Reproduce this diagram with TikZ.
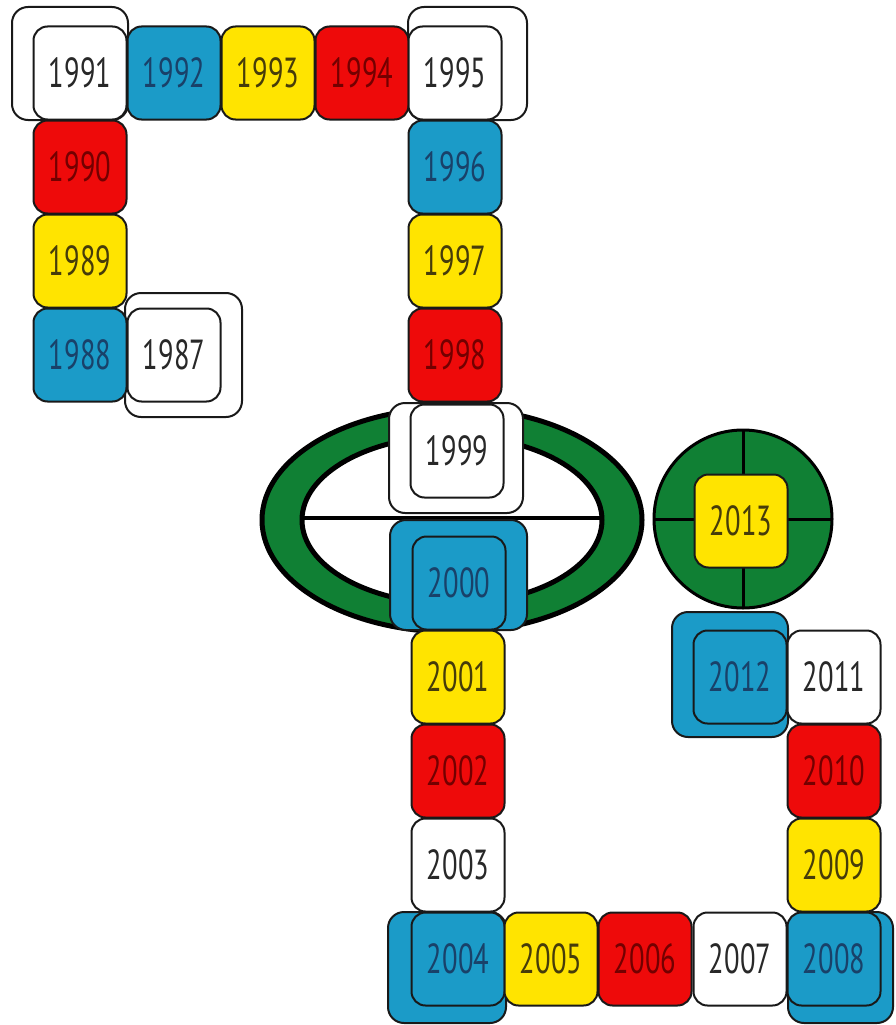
\documentclass[tikz,border=0pt]{standalone}
\usepackage{fontspec}
\setmainfont{PT Sans}[FakeStretch=0.68]
\usepackage{xcolor}

\definecolor{tblue}{RGB}{27,155,200}
\definecolor{tyellow}{RGB}{255,228,0}
\definecolor{tred}{RGB}{238,10,10}
\definecolor{tgreen}{RGB}{16,128,52}
\definecolor{tbluetext}{RGB}{25,65,105}
\definecolor{tyellowtext}{RGB}{70,60,10}
\definecolor{tredtext}{RGB}{115,0,0}
\definecolor{twhitetext}{RGB}{40,40,40}

\tikzset{
    tile/.style={draw=black!90, line width=2pt, rounded corners=14pt,
        minimum width=93pt, minimum height=93pt, inner sep=0pt,
        font=\fontsize{42}{42}\selectfont},
    whitetile/.style={tile, fill=white, text=twhitetext},
    bluetile/.style={tile, fill=tblue, text=tbluetext},
    yellowtile/.style={tile, fill=tyellow, text=tyellowtext},
    redtile/.style={tile, fill=tred, text=tredtext},
    frame/.style={draw=black!90, line width=2pt, rounded corners=16pt}
}

\begin{document}
\begin{tikzpicture}[x=1pt, y=-1pt]
    \useasboundingbox (0,0) rectangle (895,1025);

    % Ring with bar
    \fill[tgreen, draw=black, line width=5pt, even odd rule]
        (452,520) ellipse [x radius=190, y radius=112]
        (452,520) ellipse [x radius=150, y radius=84];
    \draw[line width=4pt] (302,518) -- (602,518);

    % Disc with cross
    \draw[fill=tgreen, line width=3pt] (743,519) circle [radius=89];
    \draw[line width=3pt] (654,519) -- (832,519) (743,430) -- (743,608);

    % Outer frames of the turning tiles
    \foreach \xa/\ya/\xb/\yb/\col in {12/7/128/120/white, 408/7/527/120/white,
        125/293/242/417/white, 389/403/523/513/white, 390/520/527/630/tblue,
        672/612/788/737/tblue, 388/912/506/1023/tblue, 788/912/893/1023/tblue}
        \draw[frame, fill=\col] (\xa,\ya) rectangle (\xb,\yb);

    % Year tiles
    \foreach \yr/\x/\y/\kind in {1987/174/355/whitetile, 1988/80/355/bluetile,
        1989/80/261/yellowtile, 1990/80/167/redtile, 1991/80/73/whitetile,
        1992/174/73/bluetile, 1993/268/73/yellowtile, 1994/362/73/redtile,
        1995/455/73/whitetile, 1996/455/167/bluetile, 1997/455/261/yellowtile,
        1998/455/355/redtile, 1999/457/451/whitetile, 2000/459/583/bluetile,
        2001/458/677/yellowtile, 2002/458/771/redtile, 2003/458/865/whitetile,
        2004/458/959/bluetile, 2005/551/959/yellowtile, 2006/645/959/redtile,
        2007/740/959/whitetile, 2008/834/959/bluetile, 2009/834/865/yellowtile,
        2010/834/771/redtile, 2011/834/677/whitetile, 2012/740/677/bluetile,
        2013/741/521/yellowtile}
        \node[\kind] (t\yr) at (\x,\y) {\yr};
\end{tikzpicture}
\end{document}
